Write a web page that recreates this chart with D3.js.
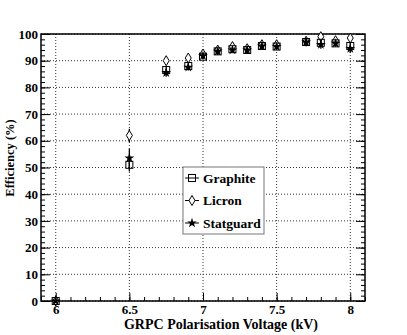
<!DOCTYPE html>
<html>
<head>
<meta charset="utf-8">
<script src="https://cdn.jsdelivr.net/npm/d3@7"></script>
<style>
body { margin: 0; background: #fff; }
svg text { font-family: "Liberation Serif", "Times New Roman", serif; font-weight: bold; }
</style>
</head>
<body>
<svg id="chart" width="407" height="335"></svg>
<script>
var voltage = [6.0, 6.5, 6.75, 6.9, 7.0, 7.1, 7.2, 7.3, 7.4, 7.5, 7.7, 7.8, 7.9, 8.0];
var graphite = [0, 51, 86.5, 88, 91.5, 93.5, 94.3, 94, 95.5, 95.3, 97, 96.7, 96.5, 95.5];
var graphiteErr = [0.5, 2.5, 1.5, 1.2, 1, 1, 1, 1, 1, 1, 1, 1.2, 1.2, 1.5];
var licron = [0, 62, 90, 91, 92.5, 94, 95.3, 94.5, 96, 96, 97.3, 99, 97.5, 98.5];
var licronErr = [0.5, 2.5, 1.2, 1.2, 1, 1, 1, 1, 1, 1, 1, 1, 1, 1.2];
var statguard = [0, 53.5, 85.5, 87.5, 91.8, 93.5, 94, 94, 95.5, 95.3, 97, 96, 96.5, 94.5];
var statguardErr = [0.5, 3.5, 1.5, 1.2, 1, 1, 1, 1, 1, 1, 1, 1.5, 1.2, 1.5];
var xTicks = [6, 6.5, 7, 7.5, 8];
var yTicks = [0, 10, 20, 30, 40, 50, 60, 70, 80, 90, 100];
var seriesNames = ["Graphite", "Licron", "Statguard"];

var serif = "'Liberation Serif', 'Times New Roman', serif";
var svg = d3.select("#chart");
var margin = {top: 34, right: 42, bottom: 34, left: 41};
var width = 407 - margin.left - margin.right,
    height = 335 - margin.top - margin.bottom;

var x = d3.scaleLinear().domain([5.9, 8.1]).range([0, width]);
var y = d3.scaleLinear().domain([0, 100]).range([height, 0]);

var g = svg.append("g")
    .attr("transform", "translate(" + margin.left + "," + margin.top + ")");

// grid
g.append("g").selectAll("line")
    .data(xTicks)
    .enter().append("line")
    .attr("x1", function (d) { return x(d); })
    .attr("x2", function (d) { return x(d); })
    .attr("y1", 0).attr("y2", height)
    .attr("stroke", "#333").attr("stroke-width", 1)
    .attr("stroke-dasharray", "1,2");
g.append("g").selectAll("line")
    .data(yTicks)
    .enter().append("line")
    .attr("x1", 0).attr("x2", width)
    .attr("y1", function (d) { return y(d); })
    .attr("y2", function (d) { return y(d); })
    .attr("stroke", "#333").attr("stroke-width", 1)
    .attr("stroke-dasharray", "1,2");

// axes
var minorX = d3.range(59, 82).map(function (d) { return d / 10; });
var minorY = d3.range(0, 101, 2);

g.append("g")
    .attr("transform", "translate(0," + height + ")")
    .call(d3.axisTop(x).tickValues(minorX).tickSize(4).tickFormat(""))
    .call(function (a) { a.select(".domain").remove(); });
g.append("g")
    .attr("transform", "translate(0," + height + ")")
    .call(d3.axisTop(x).tickValues(xTicks).tickSize(8).tickFormat(""))
    .call(function (a) { a.select(".domain").remove(); });
g.append("g")
    .attr("transform", "translate(0," + height + ")")
    .call(d3.axisBottom(x).tickValues(xTicks).tickSize(0).tickPadding(4).tickFormat(d3.format("")))
    .attr("font-family", serif).attr("font-size", 13)
    .call(function (a) {
        a.select(".domain").remove();
        a.selectAll("text").attr("fill", "#000");
    });

[0, width].forEach(function (px, i) {
    var side = i === 0 ? d3.axisRight : d3.axisLeft;
    g.append("g")
        .attr("transform", "translate(" + px + ",0)")
        .call(side(y).tickValues(minorY).tickSize(4).tickFormat(""))
        .call(function (a) { a.select(".domain").remove(); });
    g.append("g")
        .attr("transform", "translate(" + px + ",0)")
        .call(side(y).tickValues(yTicks).tickSize(9).tickFormat(""))
        .call(function (a) { a.select(".domain").remove(); });
});
g.append("g")
    .call(d3.axisLeft(y).tickValues(yTicks).tickSize(0).tickPadding(3))
    .attr("font-family", serif).attr("font-size", 13)
    .call(function (a) {
        a.select(".domain").remove();
        a.selectAll("text").attr("fill", "#000");
    });

// frame
g.append("rect")
    .attr("width", width).attr("height", height)
    .attr("fill", "none").attr("stroke", "#000").attr("stroke-width", 1.5);

// data
var series = [
    {name: "Licron", vals: licron, err: licronErr, sym: "diamond"},
    {name: "Graphite", vals: graphite, err: graphiteErr, sym: "square"},
    {name: "Statguard", vals: statguard, err: statguardErr, sym: "star"}
];

function marker(sel, sym) {
    if (sym === "square") {
        sel.append("rect")
            .attr("x", -3.5).attr("y", -3.5).attr("width", 7).attr("height", 7)
            .attr("fill", "none").attr("stroke", "#000").attr("stroke-width", 1);
    } else if (sym === "diamond") {
        sel.append("path")
            .attr("d", "M0,-5L3,0L0,5L-3,0Z")
            .attr("fill", "#fff").attr("stroke", "#000").attr("stroke-width", 1);
    } else {
        sel.append("path")
            .attr("d", d3.symbol().type(d3.symbolStar).size(30)())
            .attr("fill", "#000");
    }
}

series.forEach(function (s) {
    var pts = voltage.map(function (v, i) {
        return {x: v, y: s.vals[i], e: s.err[i]};
    });
    var sg = g.append("g");
    sg.selectAll("line")
        .data(pts)
        .enter().append("line")
        .attr("x1", function (d) { return x(d.x); })
        .attr("x2", function (d) { return x(d.x); })
        .attr("y1", function (d) { return y(Math.max(0, d.y - d.e)); })
        .attr("y2", function (d) { return y(Math.min(100.5, d.y + d.e)); })
        .attr("stroke", "#000").attr("stroke-width", 1.3);
    sg.selectAll("g.pt")
        .data(pts)
        .enter().append("g")
        .attr("class", "pt")
        .attr("transform", function (d) {
            return "translate(" + x(d.x) + "," + y(d.y) + ")";
        })
        .each(function () { marker(d3.select(this), s.sym); });
});

// legend
var symByName = {Graphite: "square", Licron: "diamond", Statguard: "star"};
var legend = svg.append("g").attr("transform", "translate(183,167)");
legend.append("rect")
    .attr("width", 81).attr("height", 67)
    .attr("fill", "#fff").attr("stroke", "#777").attr("stroke-width", 1);
var items = legend.selectAll("g.item")
    .data(seriesNames)
    .enter().append("g")
    .attr("class", "item")
    .attr("transform", function (d, i) { return "translate(9," + (11 + i * 22.5) + ")"; });
items.append("line")
    .attr("x1", -7).attr("x2", 7)
    .attr("stroke", "#000").attr("stroke-width", 1);
items.each(function (d) { marker(d3.select(this), symByName[d]); });
items.append("text")
    .attr("x", 11).attr("dy", "0.35em")
    .attr("font-family", serif)
    .attr("font-size", 13.5)
    .text(function (d) { return d; });

// axis titles
svg.append("text")
    .attr("x", 221).attr("y", 329)
    .attr("text-anchor", "middle")
    .attr("font-family", serif)
    .attr("font-size", 14)
    .text("GRPC Polarisation Voltage (kV)");
svg.append("text")
    .attr("transform", "translate(14,158) rotate(-90)")
    .attr("text-anchor", "middle")
    .attr("font-family", serif)
    .attr("font-size", 12.5)
    .text("Efficiency (%)");
</script>
</body>
</html>
